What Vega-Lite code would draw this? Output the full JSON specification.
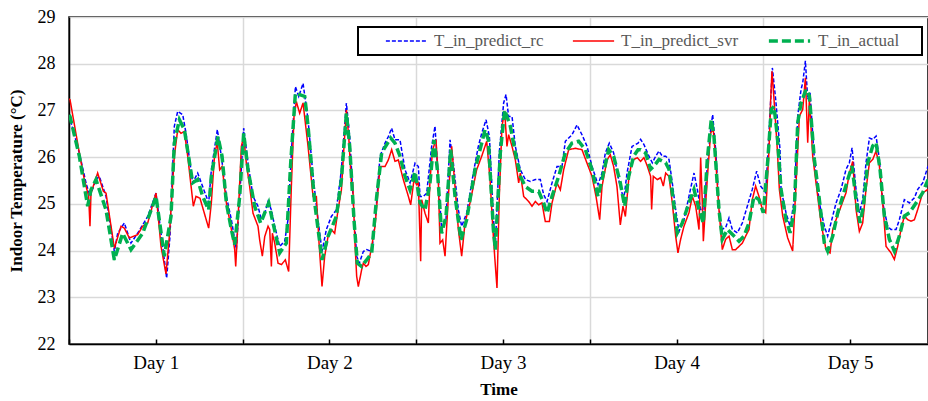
{
"$schema":"https://vega.github.io/schema/vega-lite/v6.json",
"width":859,"height":327,
"autosize":{"type":"none"},
"padding":{"left":69,"top":17,"right":0,"bottom":57},
"background":"white",
"datasets":{
"rc":[{"h":0,"t":26.9},{"h":1.43,"t":26.09},{"h":2.35,"t":25.45},{"h":2.9,"t":25.16},{"h":3.73,"t":25.52},{"h":4.19,"t":25.59},{"h":5.12,"t":25.16},{"h":6.27,"t":23.98},{"h":6.73,"t":24.37},{"h":7.65,"t":24.59},{"h":8.57,"t":24.16},{"h":9.49,"t":24.37},{"h":10.88,"t":24.73},{"h":12.03,"t":25.23},{"h":12.95,"t":24.09},{"h":13.5,"t":23.41},{"h":13.96,"t":24.3},{"h":14.56,"t":26.66},{"h":15.03,"t":26.98},{"h":15.72,"t":26.91},{"h":16.18,"t":26.51},{"h":17.1,"t":25.45},{"h":17.79,"t":25.66},{"h":18.48,"t":25.37},{"h":19.31,"t":25.02},{"h":19.68,"t":25.73},{"h":20.51,"t":26.59},{"h":21.06,"t":26.02},{"h":21.76,"t":25.16},{"h":22.45,"t":24.66},{"h":23.14,"t":24.02},{"h":23.6,"t":25.16},{"h":24.15,"t":26.62},{"h":24.75,"t":25.87},{"h":25.44,"t":25.16},{"h":26.13,"t":24.95},{"h":26.59,"t":24.66},{"h":27.06,"t":24.8},{"h":27.52,"t":25.05},{"h":27.98,"t":24.87},{"h":28.44,"t":24.52},{"h":29.13,"t":24.09},{"h":29.82,"t":24.2},{"h":30.28,"t":24.66},{"h":30.74,"t":26.09},{"h":31.3,"t":27.51},{"h":31.76,"t":27.3},{"h":32.36,"t":27.58},{"h":33.05,"t":26.8},{"h":33.74,"t":25.59},{"h":34.43,"t":24.66},{"h":34.98,"t":23.98},{"h":35.58,"t":24.45},{"h":36.27,"t":24.73},{"h":36.96,"t":24.87},{"h":37.66,"t":25.73},{"h":38.35,"t":27.16},{"h":38.81,"t":26.44},{"h":39.31,"t":25.02},{"h":39.77,"t":23.88},{"h":40.14,"t":23.73},{"h":40.69,"t":23.98},{"h":41.15,"t":24.02},{"h":41.85,"t":23.98},{"h":42.31,"t":24.59},{"h":43.0,"t":26.02},{"h":43.69,"t":26.3},{"h":44.15,"t":26.44},{"h":44.61,"t":26.62},{"h":45.07,"t":26.37},{"h":45.76,"t":26.37},{"h":46.46,"t":25.73},{"h":47.15,"t":25.45},{"h":47.84,"t":25.87},{"h":48.3,"t":25.8},{"h":48.53,"t":25.16},{"h":48.99,"t":25.16},{"h":49.45,"t":25.23},{"h":50.14,"t":26.23},{"h":50.6,"t":26.66},{"h":51.06,"t":25.52},{"h":51.52,"t":24.45},{"h":52.12,"t":24.66},{"h":52.68,"t":26.37},{"h":53.14,"t":25.87},{"h":53.83,"t":24.87},{"h":54.29,"t":24.52},{"h":54.98,"t":24.8},{"h":55.9,"t":25.66},{"h":56.59,"t":26.23},{"h":57.06,"t":26.51},{"h":57.66,"t":26.8},{"h":58.12,"t":26.44},{"h":58.67,"t":24.73},{"h":58.94,"t":24.09},{"h":59.49,"t":26.09},{"h":60.09,"t":27.16},{"h":60.42,"t":27.34},{"h":60.78,"t":26.87},{"h":61.25,"t":26.87},{"h":61.71,"t":26.23},{"h":62.4,"t":25.73},{"h":63.09,"t":25.52},{"h":63.78,"t":25.48},{"h":64.47,"t":25.52},{"h":65.16,"t":25.52},{"h":65.62,"t":25.2},{"h":66.09,"t":25.05},{"h":66.78,"t":25.45},{"h":67.47,"t":25.8},{"h":68.16,"t":25.8},{"h":68.62,"t":26.34},{"h":69.54,"t":26.48},{"h":70.23,"t":26.69},{"h":70.92,"t":26.48},{"h":71.62,"t":26.23},{"h":72.31,"t":25.8},{"h":73.14,"t":25.41},{"h":73.69,"t":25.66},{"h":74.15,"t":26.09},{"h":74.7,"t":26.3},{"h":75.3,"t":26.09},{"h":75.99,"t":25.52},{"h":76.69,"t":25.09},{"h":77.15,"t":25.66},{"h":77.84,"t":26.23},{"h":78.67,"t":26.3},{"h":79.03,"t":26.38},{"h":79.49,"t":26.27},{"h":80.18,"t":26.02},{"h":80.65,"t":25.88},{"h":81.11,"t":26.02},{"h":81.57,"t":26.13},{"h":82.03,"t":26.02},{"h":82.49,"t":26.02},{"h":82.95,"t":25.95},{"h":83.41,"t":25.45},{"h":83.87,"t":24.88},{"h":84.33,"t":24.41},{"h":85.02,"t":24.66},{"h":85.71,"t":25.16},{"h":86.41,"t":25.66},{"h":86.87,"t":25.31},{"h":87.33,"t":24.88},{"h":87.79,"t":24.88},{"h":88.25,"t":25.81},{"h":88.71,"t":26.59},{"h":88.99,"t":26.91},{"h":89.4,"t":26.16},{"h":89.86,"t":24.95},{"h":90.19,"t":24.45},{"h":90.78,"t":24.49},{"h":91.25,"t":24.7},{"h":91.71,"t":24.45},{"h":92.4,"t":24.38},{"h":93.09,"t":24.59},{"h":93.78,"t":24.95},{"h":94.47,"t":25.31},{"h":95.07,"t":25.7},{"h":95.62,"t":25.38},{"h":96.32,"t":25.24},{"h":96.78,"t":26.52},{"h":97.24,"t":27.91},{"h":97.7,"t":27.24},{"h":98.3,"t":26.16},{"h":98.44,"t":25.31},{"h":99.13,"t":24.81},{"h":99.69,"t":24.52},{"h":100.28,"t":25.09},{"h":100.75,"t":26.88},{"h":101.21,"t":27.45},{"h":101.44,"t":27.59},{"h":101.81,"t":28.06},{"h":102.13,"t":27.24},{"h":102.45,"t":27.38},{"h":103.05,"t":25.95},{"h":103.74,"t":25.02},{"h":104.43,"t":24.52},{"h":104.89,"t":24.31},{"h":105.59,"t":24.74},{"h":106.05,"t":25.02},{"h":106.74,"t":25.31},{"h":107.43,"t":25.74},{"h":107.89,"t":25.88},{"h":108.26,"t":26.2},{"h":108.81,"t":25.31},{"h":109.27,"t":24.81},{"h":109.73,"t":25.09},{"h":110.19,"t":25.88},{"h":110.66,"t":26.41},{"h":111.12,"t":26.38},{"h":111.58,"t":26.45},{"h":112.04,"t":25.95},{"h":112.5,"t":25.02},{"h":113.19,"t":24.52},{"h":113.65,"t":24.45},{"h":114.34,"t":24.45},{"h":114.8,"t":24.66},{"h":115.49,"t":25.09},{"h":116.19,"t":25.02},{"h":116.88,"t":25.13},{"h":117.34,"t":25.31},{"h":118.03,"t":25.45},{"h":118.77,"t":25.81}],
"svr":[{"h":0,"t":27.25},{"h":0.14,"t":27.23},{"h":1.43,"t":26.09},{"h":2.12,"t":25.52},{"h":2.72,"t":25.16},{"h":2.9,"t":24.52},{"h":3.04,"t":25.23},{"h":3.96,"t":25.66},{"h":4.75,"t":25.27},{"h":5.12,"t":25.23},{"h":6.27,"t":24.05},{"h":7.19,"t":24.52},{"h":7.65,"t":24.48},{"h":8.34,"t":24.27},{"h":9.49,"t":24.34},{"h":10.19,"t":24.52},{"h":10.88,"t":24.59},{"h":12.03,"t":25.23},{"h":12.72,"t":24.09},{"h":13.41,"t":23.5},{"h":13.87,"t":24.3},{"h":14.56,"t":26.02},{"h":15.03,"t":26.59},{"h":15.49,"t":26.51},{"h":15.95,"t":26.55},{"h":16.41,"t":26.02},{"h":17.19,"t":24.95},{"h":17.56,"t":25.16},{"h":18.11,"t":25.12},{"h":18.71,"t":24.8},{"h":19.31,"t":24.48},{"h":19.68,"t":25.02},{"h":20.14,"t":26.09},{"h":20.51,"t":26.3},{"h":20.83,"t":25.73},{"h":21.16,"t":25.8},{"h":21.76,"t":25.02},{"h":22.45,"t":24.45},{"h":22.91,"t":24.02},{"h":23.05,"t":23.66},{"h":23.28,"t":24.37},{"h":23.83,"t":26.23},{"h":24.15,"t":26.44},{"h":24.52,"t":25.87},{"h":24.98,"t":25.37},{"h":25.44,"t":24.8},{"h":26.13,"t":24.52},{"h":26.36,"t":24.23},{"h":26.73,"t":23.88},{"h":27.06,"t":24.3},{"h":27.52,"t":24.52},{"h":27.75,"t":24.45},{"h":27.98,"t":23.66},{"h":28.12,"t":24.37},{"h":28.44,"t":24.16},{"h":28.9,"t":23.73},{"h":29.36,"t":23.7},{"h":29.91,"t":23.8},{"h":30.37,"t":23.55},{"h":30.74,"t":25.37},{"h":31.11,"t":26.87},{"h":31.43,"t":27.19},{"h":31.89,"t":26.94},{"h":32.36,"t":27.16},{"h":33.05,"t":26.23},{"h":33.74,"t":25.16},{"h":34.2,"t":25.16},{"h":34.57,"t":24.16},{"h":34.98,"t":23.23},{"h":35.35,"t":23.88},{"h":35.81,"t":24.3},{"h":36.27,"t":24.45},{"h":36.73,"t":24.37},{"h":37.2,"t":24.87},{"h":37.66,"t":25.3},{"h":38.02,"t":26.23},{"h":38.35,"t":27.01},{"h":38.67,"t":26.44},{"h":39.04,"t":25.45},{"h":39.22,"t":25.45},{"h":39.54,"t":24.16},{"h":39.77,"t":23.45},{"h":40.0,"t":23.23},{"h":40.46,"t":23.59},{"h":40.69,"t":23.73},{"h":41.06,"t":23.66},{"h":41.38,"t":23.7},{"h":41.85,"t":24.09},{"h":42.31,"t":24.52},{"h":43.0,"t":25.8},{"h":43.69,"t":25.8},{"h":44.15,"t":25.94},{"h":44.61,"t":26.16},{"h":45.07,"t":25.91},{"h":45.53,"t":25.94},{"h":46.22,"t":25.52},{"h":46.92,"t":25.16},{"h":47.24,"t":24.98},{"h":47.7,"t":25.52},{"h":48.07,"t":25.41},{"h":48.3,"t":25.45},{"h":48.62,"t":23.77},{"h":48.76,"t":25.09},{"h":49.22,"t":24.8},{"h":49.68,"t":24.59},{"h":49.91,"t":25.52},{"h":50.28,"t":26.16},{"h":50.74,"t":26.37},{"h":51.06,"t":25.52},{"h":51.29,"t":24.16},{"h":51.66,"t":24.23},{"h":51.99,"t":23.88},{"h":52.45,"t":25.16},{"h":52.91,"t":26.23},{"h":53.37,"t":25.37},{"h":53.83,"t":24.45},{"h":54.29,"t":23.88},{"h":54.75,"t":24.59},{"h":55.44,"t":25.02},{"h":56.36,"t":25.73},{"h":57.06,"t":26.02},{"h":57.75,"t":26.34},{"h":58.21,"t":25.52},{"h":58.58,"t":24.52},{"h":58.85,"t":23.88},{"h":59.17,"t":23.2},{"h":59.49,"t":25.16},{"h":59.86,"t":26.66},{"h":60.23,"t":26.98},{"h":60.55,"t":26.23},{"h":60.78,"t":26.48},{"h":61.25,"t":26.23},{"h":61.71,"t":25.94},{"h":62.17,"t":25.45},{"h":62.4,"t":25.66},{"h":62.86,"t":25.16},{"h":63.55,"t":25.05},{"h":64.01,"t":24.95},{"h":64.47,"t":25.05},{"h":64.93,"t":24.98},{"h":65.39,"t":25.02},{"h":65.85,"t":24.62},{"h":66.41,"t":24.62},{"h":66.78,"t":25.02},{"h":67.47,"t":25.45},{"h":67.93,"t":25.3},{"h":68.39,"t":25.73},{"h":69.08,"t":26.16},{"h":70.0,"t":26.19},{"h":70.92,"t":26.16},{"h":71.62,"t":25.87},{"h":72.31,"t":25.59},{"h":72.86,"t":25.16},{"h":73.37,"t":24.66},{"h":73.69,"t":25.37},{"h":74.38,"t":25.94},{"h":74.84,"t":26.05},{"h":75.3,"t":25.8},{"h":75.76,"t":25.37},{"h":76.22,"t":24.55},{"h":76.59,"t":24.95},{"h":76.92,"t":24.73},{"h":77.38,"t":25.52},{"h":77.84,"t":25.94},{"h":78.1,"t":25.95},{"h":78.57,"t":25.99},{"h":79.03,"t":25.91},{"h":79.49,"t":25.99},{"h":79.95,"t":25.81},{"h":80.41,"t":25.59},{"h":80.55,"t":24.88},{"h":80.78,"t":25.59},{"h":81.34,"t":25.52},{"h":81.8,"t":25.56},{"h":82.17,"t":25.38},{"h":82.49,"t":25.66},{"h":82.95,"t":25.59},{"h":83.41,"t":25.02},{"h":83.87,"t":24.31},{"h":84.19,"t":23.95},{"h":84.56,"t":24.24},{"h":85.02,"t":24.52},{"h":85.71,"t":24.81},{"h":86.18,"t":25.16},{"h":86.64,"t":24.95},{"h":87.1,"t":24.45},{"h":87.33,"t":25.99},{"h":87.56,"t":25.02},{"h":87.7,"t":24.2},{"h":88.02,"t":25.02},{"h":88.34,"t":25.74},{"h":88.71,"t":26.52},{"h":89.08,"t":26.59},{"h":89.4,"t":25.95},{"h":89.86,"t":24.88},{"h":90.32,"t":24.02},{"h":90.78,"t":24.24},{"h":91.25,"t":24.31},{"h":91.71,"t":24.02},{"h":92.17,"t":24.02},{"h":92.63,"t":24.09},{"h":93.09,"t":24.16},{"h":93.55,"t":24.31},{"h":94.01,"t":24.45},{"h":94.47,"t":25.09},{"h":94.93,"t":25.38},{"h":95.39,"t":25.16},{"h":95.86,"t":24.88},{"h":96.32,"t":24.81},{"h":96.78,"t":26.16},{"h":97.01,"t":27.24},{"h":97.19,"t":27.84},{"h":97.47,"t":27.24},{"h":97.93,"t":26.16},{"h":98.21,"t":25.31},{"h":98.67,"t":24.74},{"h":99.36,"t":24.27},{"h":100.05,"t":23.99},{"h":100.52,"t":25.45},{"h":100.98,"t":26.88},{"h":101.44,"t":27.02},{"h":101.81,"t":27.7},{"h":102.13,"t":26.31},{"h":102.36,"t":27.24},{"h":102.82,"t":26.02},{"h":103.28,"t":25.45},{"h":103.97,"t":24.59},{"h":104.66,"t":24.02},{"h":105.22,"t":23.95},{"h":105.59,"t":24.45},{"h":106.05,"t":24.66},{"h":106.74,"t":24.95},{"h":107.43,"t":25.24},{"h":107.89,"t":25.66},{"h":108.35,"t":25.91},{"h":108.81,"t":24.88},{"h":109.27,"t":24.41},{"h":109.73,"t":24.59},{"h":110.19,"t":25.31},{"h":110.66,"t":25.88},{"h":111.12,"t":25.95},{"h":111.58,"t":26.13},{"h":112.04,"t":25.81},{"h":112.5,"t":25.02},{"h":112.96,"t":24.09},{"h":113.65,"t":23.95},{"h":114.11,"t":23.81},{"h":114.57,"t":24.09},{"h":115.03,"t":24.45},{"h":115.49,"t":24.74},{"h":115.96,"t":24.66},{"h":116.42,"t":24.63},{"h":116.88,"t":24.66},{"h":117.34,"t":24.88},{"h":118.03,"t":25.24},{"h":118.77,"t":25.31}],
"actual":[{"h":0,"t":26.9},{"h":0.14,"t":26.87},{"h":1.43,"t":26.02},{"h":2.58,"t":24.95},{"h":3.04,"t":25.3},{"h":3.73,"t":25.52},{"h":5.12,"t":24.87},{"h":6.27,"t":23.8},{"h":7.42,"t":24.37},{"h":8.57,"t":24.02},{"h":10.19,"t":24.37},{"h":12.03,"t":25.16},{"h":13.18,"t":23.88},{"h":14.1,"t":24.73},{"h":14.56,"t":26.3},{"h":15.26,"t":26.8},{"h":15.95,"t":26.59},{"h":17.1,"t":25.45},{"h":17.79,"t":25.52},{"h":18.48,"t":25.16},{"h":19.31,"t":24.87},{"h":19.68,"t":25.59},{"h":20.6,"t":26.44},{"h":21.16,"t":26.02},{"h":21.76,"t":25.02},{"h":22.45,"t":24.45},{"h":22.91,"t":24.13},{"h":23.6,"t":25.16},{"h":24.15,"t":26.51},{"h":24.75,"t":25.73},{"h":25.67,"t":24.95},{"h":26.5,"t":24.59},{"h":27.61,"t":25.02},{"h":28.21,"t":24.59},{"h":29.13,"t":23.95},{"h":30.05,"t":24.16},{"h":30.65,"t":25.87},{"h":31.3,"t":27.37},{"h":31.89,"t":27.34},{"h":32.59,"t":27.3},{"h":33.05,"t":26.66},{"h":33.97,"t":25.02},{"h":34.98,"t":23.8},{"h":35.81,"t":24.3},{"h":36.96,"t":24.73},{"h":37.66,"t":25.52},{"h":38.35,"t":26.94},{"h":38.81,"t":26.23},{"h":39.4,"t":24.66},{"h":39.86,"t":23.73},{"h":40.46,"t":23.66},{"h":41.15,"t":23.8},{"h":41.85,"t":23.95},{"h":42.54,"t":25.16},{"h":43.23,"t":26.09},{"h":43.92,"t":26.27},{"h":44.47,"t":26.41},{"h":45.07,"t":26.3},{"h":45.76,"t":26.02},{"h":46.46,"t":25.59},{"h":47.15,"t":25.3},{"h":47.84,"t":25.69},{"h":48.53,"t":25.02},{"h":49.22,"t":24.87},{"h":49.91,"t":25.45},{"h":50.46,"t":26.37},{"h":50.93,"t":25.73},{"h":51.52,"t":24.37},{"h":52.12,"t":24.73},{"h":52.77,"t":26.16},{"h":53.37,"t":25.16},{"h":54.2,"t":24.23},{"h":54.98,"t":24.66},{"h":56.13,"t":25.73},{"h":57.06,"t":26.3},{"h":57.52,"t":26.59},{"h":57.98,"t":26.37},{"h":58.67,"t":24.45},{"h":58.94,"t":24.02},{"h":59.63,"t":26.09},{"h":60.23,"t":27.01},{"h":61.02,"t":26.66},{"h":61.71,"t":26.09},{"h":62.4,"t":25.59},{"h":63.09,"t":25.37},{"h":64.01,"t":25.27},{"h":64.93,"t":25.27},{"h":65.62,"t":25.02},{"h":66.09,"t":24.8},{"h":66.78,"t":25.16},{"h":67.7,"t":25.59},{"h":68.62,"t":26.09},{"h":69.54,"t":26.3},{"h":70.46,"t":26.34},{"h":71.39,"t":26.16},{"h":72.31,"t":25.73},{"h":73.14,"t":25.16},{"h":73.69,"t":25.52},{"h":74.61,"t":26.16},{"h":75.3,"t":26.02},{"h":76.22,"t":25.45},{"h":76.82,"t":24.95},{"h":77.38,"t":25.59},{"h":78.07,"t":26.02},{"h":78.67,"t":26.16},{"h":79.03,"t":26.16},{"h":79.72,"t":26.09},{"h":80.41,"t":25.74},{"h":80.88,"t":25.81},{"h":81.57,"t":25.95},{"h":82.49,"t":25.88},{"h":82.95,"t":25.74},{"h":83.41,"t":25.24},{"h":84.1,"t":24.38},{"h":84.79,"t":24.59},{"h":85.71,"t":25.02},{"h":86.41,"t":25.31},{"h":87.1,"t":24.88},{"h":87.7,"t":24.59},{"h":88.25,"t":25.95},{"h":88.8,"t":26.81},{"h":89.17,"t":26.45},{"h":89.86,"t":24.88},{"h":90.32,"t":24.24},{"h":91.02,"t":24.45},{"h":91.94,"t":24.31},{"h":92.63,"t":24.2},{"h":93.32,"t":24.31},{"h":94.01,"t":24.59},{"h":94.7,"t":25.16},{"h":95.39,"t":25.09},{"h":95.99,"t":24.81},{"h":96.55,"t":25.81},{"h":97.1,"t":27.02},{"h":97.47,"t":27.09},{"h":97.93,"t":26.45},{"h":98.44,"t":25.31},{"h":99.13,"t":24.66},{"h":99.69,"t":24.38},{"h":100.28,"t":24.88},{"h":100.75,"t":26.74},{"h":101.21,"t":27.16},{"h":101.9,"t":27.45},{"h":102.36,"t":27.31},{"h":103.05,"t":25.95},{"h":103.74,"t":25.09},{"h":104.43,"t":24.16},{"h":104.89,"t":23.99},{"h":105.59,"t":24.31},{"h":106.28,"t":24.81},{"h":106.97,"t":25.16},{"h":107.66,"t":25.52},{"h":108.26,"t":25.81},{"h":108.81,"t":25.09},{"h":109.36,"t":24.59},{"h":109.83,"t":24.95},{"h":110.43,"t":25.88},{"h":111.12,"t":26.24},{"h":111.58,"t":26.31},{"h":112.13,"t":25.74},{"h":112.73,"t":24.74},{"h":113.42,"t":24.24},{"h":114.11,"t":23.99},{"h":114.8,"t":24.31},{"h":115.49,"t":24.74},{"h":116.19,"t":24.81},{"h":117.11,"t":25.02},{"h":118.03,"t":25.24},{"h":118.77,"t":25.52}]
},
"encoding":{
"x":{"field":"h","type":"quantitative","scale":{"domain":[0,118.76],"nice":false,"zero":false},
 "axis":{"values":[0,12,24,36,48,60,72,84,96,108],"labelExpr":"datum.value % 24 === 12 ? 'Day ' + (floor(datum.value / 24) + 1) : ''","grid":true,"gridColor":"#d9d9d9","gridWidth":1.5,"gridOpacity":{"condition":{"test":"datum.value % 24 === 0","value":1},"value":0},"tickSize":-5,"tickColor":"black","tickWidth":1.5,"labelFontSize":19,"labelPadding":14,"labelFlush":false,"labelOverlap":false,"title":"Time","titleFontSize":17,"titleFontWeight":"bold","titlePadding":9}},
"y":{"field":"t","type":"quantitative","scale":{"domain":[22,29],"nice":false,"zero":false},
 "axis":{"values":[22,23,24,25,26,27,28,29],"grid":true,"gridColor":"#d9d9d9","gridWidth":1.5,"ticks":false,"labelFontSize":18,"labelPadding":14,"labelFlush":false,"title":"Indoor Temperature (°C)","titleFontSize":17,"titleFontWeight":"bold","titlePadding":12}},
"color":{"field":"s","type":"nominal","scale":{"domain":["rc","svr","actual"],"range":["#0000ff","#ff0000","#00b050"]},
 "legend":{"orient":"none","legendX":289,"legendY":10,"direction":"horizontal","title":null,"labelExpr":"datum.value === 'rc' ? 'T_in_predict_rc' : datum.value === 'svr' ? 'T_in_predict_svr' : 'T_in_actual\u00a0\u00a0\u00a0\u00a0\u200d'","labelFontSize":17,"labelColor":"#595959","labelFont":"Liberation Serif","symbolType":"stroke","symbolSize":1700,"clipHeight":18,"labelOffset":6,"columnPadding":6,"padding":5,"strokeColor":"black","symbolOffset":22,"fillColor":"white","encode":{"legend":{"update":{"strokeWidth":{"value":2}}}}}},
"strokeDash":{"field":"s","type":"nominal","scale":{"domain":["rc","svr","actual"],"range":[[4,2],[1,0],[9,4]]}},
"strokeWidth":{"field":"s","type":"nominal","scale":{"type":"ordinal","domain":["rc","svr","actual"],"range":[1.5,1.5,3.5]}}
},
"layer":[
{"data":{"name":"rc"},"transform":[{"calculate":"'rc'","as":"s"}],"mark":{"type":"line","clip":true},"encoding":{}},
{"data":{"name":"svr"},"transform":[{"calculate":"'svr'","as":"s"}],"mark":{"type":"line","clip":true},"encoding":{}},
{"data":{"name":"actual"},"transform":[{"calculate":"'actual'","as":"s"}],"mark":{"type":"line","clip":true},"encoding":{}}
],
"config":{"font":"Liberation Serif","view":{"stroke":"black","strokeWidth":1.5},
 "axis":{"domainColor":"black","domainWidth":1.5,"labelColor":"black","titleColor":"black","labelFont":"Liberation Serif","titleFont":"Liberation Serif"}}
}
